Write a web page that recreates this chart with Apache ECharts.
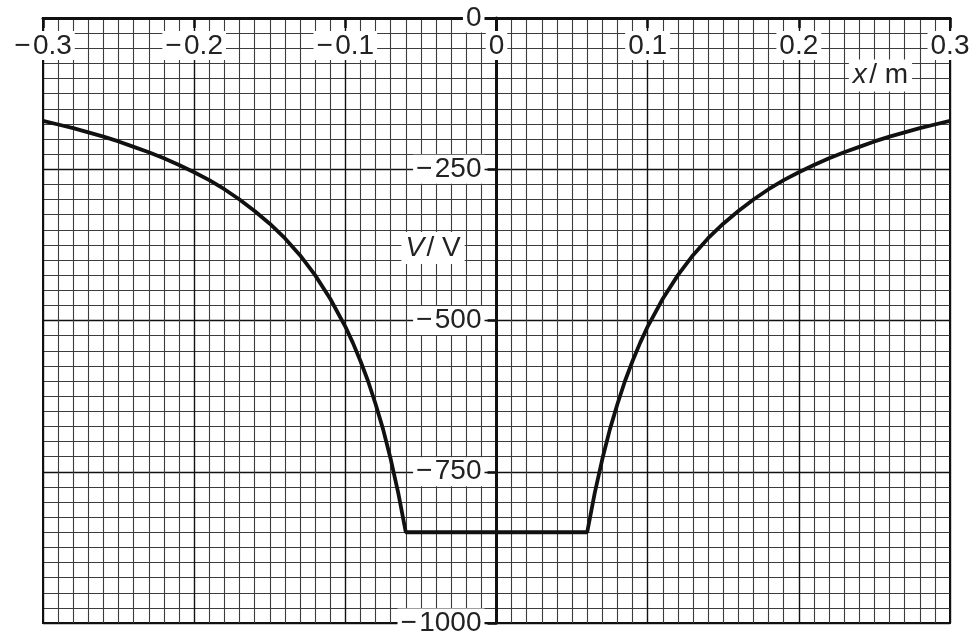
<!DOCTYPE html>
<html>
<head>
<meta charset="utf-8">
<script src="https://cdn.jsdelivr.net/npm/echarts@6/dist/echarts.min.js"></script>
<style>
  html, body { margin: 0; padding: 0; background: #fff; }
  #chart { width: 973px; height: 634px; }
</style>
</head>
<body>
<div id="chart"></div>
<script>
// x positions (m) and potential V (V)
var xLeft = [-0.30, -0.29, -0.28, -0.27, -0.26, -0.25, -0.24, -0.23, -0.22, -0.21, -0.20,
             -0.19, -0.18, -0.17, -0.16, -0.15, -0.14, -0.13, -0.12, -0.11, -0.10,
             -0.095, -0.09, -0.085, -0.08, -0.075, -0.07, -0.065, -0.06];
var vLeft = [-170, -176, -182, -189, -196, -204, -213, -222, -232, -243, -255,
             -268, -283, -300, -319, -340, -364, -392, -425, -464, -510,
             -537, -567, -600, -638, -680, -729, -785, -850];
var xRight = [0.06, 0.065, 0.07, 0.075, 0.08, 0.085, 0.09, 0.095, 0.10,
              0.11, 0.12, 0.13, 0.14, 0.15, 0.16, 0.17, 0.18, 0.19, 0.20,
              0.21, 0.22, 0.23, 0.24, 0.25, 0.26, 0.27, 0.28, 0.29, 0.30];
var vRight = [-850, -785, -729, -680, -638, -600, -567, -537, -510,
              -464, -425, -392, -364, -340, -319, -300, -283, -268, -255,
              -243, -232, -222, -213, -204, -196, -189, -182, -176, -170];

var xTicks = [-0.3, -0.2, -0.1, 0, 0.1, 0.2, 0.3];
var vTicks = [0, -250, -500, -750, -1000];

var font = 'Liberation Sans, Arial, sans-serif';
var minus = '\u2212\u200A';

var points = [];
for (var i = 0; i < xLeft.length; i++) points.push([xLeft[i], vLeft[i]]);
for (var j = 0; j < xRight.length; j++) points.push([xRight[j], vRight[j]]);

var gridLeft = 43;
var chart = echarts.init(document.getElementById('chart'));
chart.setOption({
    animation: false,
    backgroundColor: '#fff',
    grid: {
        left: gridLeft, right: 23, top: 18, bottom: 11,
        outerBoundsMode: 'none', containLabel: false,
        show: true, borderColor: '#111', borderWidth: 2
    },
    xAxis: {
        type: 'value',
        min: xTicks[0], max: xTicks[xTicks.length - 1], interval: 0.1,
        position: 'top',
        axisLine: { onZero: false, lineStyle: { color: '#111', width: 3 } },
        axisTick: { inside: true, length: 10, lineStyle: { color: '#111', width: 2.5 } },
        axisLabel: {
            inside: true, margin: 13, fontFamily: font, fontSize: 28, color: '#222',
            backgroundColor: '#fff', padding: [1, 3, 0, 3],
            formatter: function (v) {
                if (Math.abs(v) < 1e-9) return '0';
                var s = Math.abs(v).toFixed(1);
                return v < 0 ? minus + s : s;
            }
        },
        splitLine: { show: true, lineStyle: { color: '#111', width: 1.4 } },
        minorTick: { show: false, splitNumber: 10 },
        minorSplitLine: { show: true, lineStyle: { color: '#3c3c3c', width: 1.1 } }
    },
    yAxis: {
        type: 'value',
        position: 'left',
        min: vTicks[vTicks.length - 1], max: vTicks[0], interval: 250,
        axisLine: { onZero: false, lineStyle: { color: '#111', width: 3 } },
        axisTick: { length: 9, lineStyle: { color: '#111', width: 2.5 } },
        axisLabel: {
            margin: 12, fontFamily: font, fontSize: 28, color: '#222',
            backgroundColor: '#fff', padding: [1, 3, 0, 3],
            formatter: function (v) {
                return v === 0 ? '0' : minus + Math.abs(v);
            }
        },
        splitLine: { show: true, lineStyle: { color: '#111', width: 1.4 } },
        minorTick: { show: false, splitNumber: 10 },
        minorSplitLine: { show: true, lineStyle: { color: '#3c3c3c', width: 1.1 } }
    },
    series: [{
        type: 'line',
        data: points,
        showSymbol: false,
        smooth: false,
        lineStyle: { color: '#111', width: 3.8 },
        z: 5
    }]
});

// move the V axis (line, ticks, labels) onto x = 0
var zeroX = chart.convertToPixel({ xAxisIndex: 0 }, 0);
chart.setOption({ yAxis: { offset: -(zeroX - gridLeft) } });

// axis names placed in data space
var pX = chart.convertToPixel({ gridIndex: 0 }, [0.254, -95]);
var pV = chart.convertToPixel({ gridIndex: 0 }, [-0.042, -380]);
function nameLabel(p, a, b) {
    return {
        type: 'text', x: p[0], y: p[1], z: 10,
        style: {
            text: '{i|' + a + '}{n|\u200A/ ' + b + '}',
            align: 'center', verticalAlign: 'middle',
            backgroundColor: '#fff', padding: [2, 4],
            rich: {
                i: { fontFamily: font, fontSize: 28, fontStyle: 'italic', fill: '#222' },
                n: { fontFamily: font, fontSize: 28, fill: '#222' }
            }
        }
    };
}
chart.setOption({ graphic: [nameLabel(pX, 'x', 'm'), nameLabel(pV, 'V', 'V')] });
</script>
</body>
</html>
